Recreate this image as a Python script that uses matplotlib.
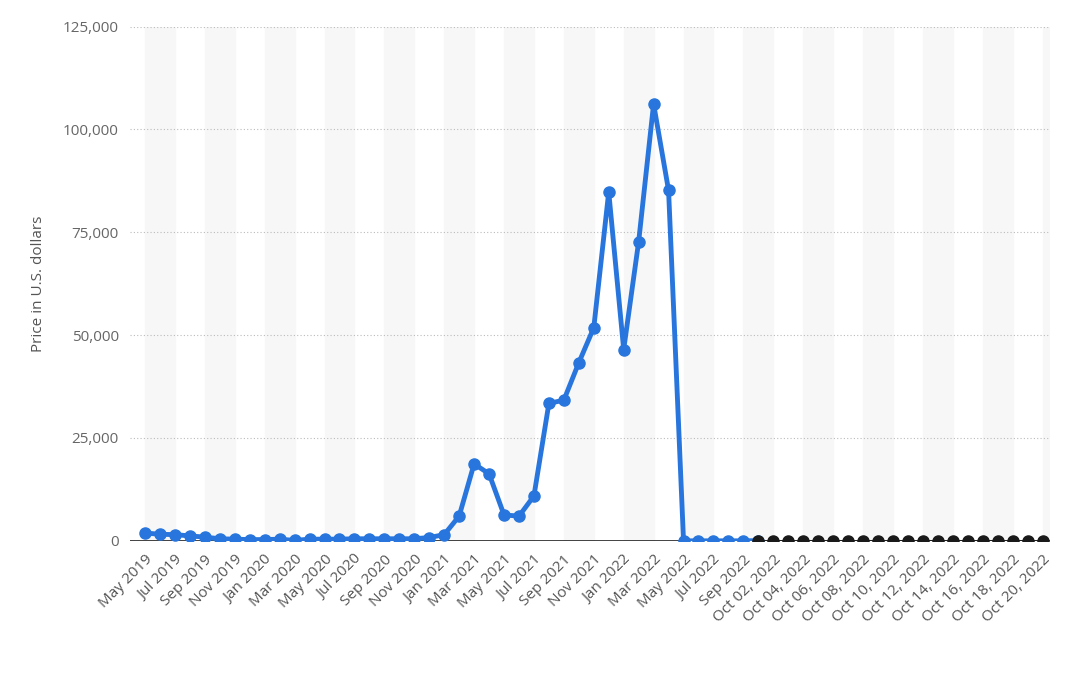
import matplotlib
matplotlib.use("Agg")
import matplotlib.pyplot as plt

plt.rcParams['font.family'] = ['Open Sans', 'DejaVu Sans']

months = ["May 2019","Jun 2019","Jul 2019","Aug 2019","Sep 2019","Oct 2019","Nov 2019","Dec 2019",
          "Jan 2020","Feb 2020","Mar 2020","Apr 2020","May 2020","Jun 2020","Jul 2020","Aug 2020","Sep 2020","Oct 2020","Nov 2020","Dec 2020",
          "Jan 2021","Feb 2021","Mar 2021","Apr 2021","May 2021","Jun 2021","Jul 2021","Aug 2021","Sep 2021","Oct 2021","Nov 2021","Dec 2021",
          "Jan 2022","Feb 2022","Mar 2022","Apr 2022","May 2022","Jun 2022","Jul 2022","Aug 2022","Sep 2022"]
monthly_values = [1900,1600,1500,1200,900,500,400,300,300,400,100,400,400,400,500,500,500,500,500,800,
                  1500,6000,18700,16300,6300,6000,10900,33400,34200,43300,51800,84800,46500,72700,106200,85200,
                  0,0,0,0,0]
days = ["Oct %02d, 2022" % d for d in range(1, 21)]
daily_values = [50]*20

labels = months + days
n = len(labels)
fig = plt.figure(figsize=(10.66, 6.82), dpi=100)
ax = fig.add_axes([0.122, 0.207, 0.863, 0.754])
for i in range(0, n, 4):
    ax.axvspan(i - 0.0, i + 2.0, color="#f7f7f7", zorder=0)
xs_m = list(range(len(months)))
xs_d = list(range(len(months), n))
ax.plot(xs_m + [xs_d[0]], monthly_values + [daily_values[0]], color="#2876dd", lw=3.5, marker="o", ms=8, zorder=3)
ax.plot(xs_d, daily_values, color="#1a1a1a", lw=2, marker="o", ms=8, zorder=4)
ax.axhline(0, color="#222222", lw=1.2, zorder=2.9)
ax.set_ylim(0, 125000)
ax.set_xlim(-1, n - 0.5)
ax.set_yticks([0, 25000, 50000, 75000, 100000, 125000])
ax.set_yticklabels(["0","25,000","50,000","75,000","100,000","125,000"], color="#666666", fontsize=11)
ax.set_xticks(range(0, n, 2))
ax.set_xticklabels(labels[::2], rotation=45, ha="right", rotation_mode="anchor", color="#555555", fontsize=11)
ax.grid(axis="y", color="#bbbbbb", ls=(0, (1, 2)), lw=0.8)
ax.set_axisbelow(True)
for s in ax.spines.values():
    s.set_visible(False)
ax.tick_params(length=0, pad=8)
ax.set_ylabel("Price in U.S. dollars", color="#555555", fontsize=11, labelpad=12)
fig.savefig("out.png", dpi=100)
